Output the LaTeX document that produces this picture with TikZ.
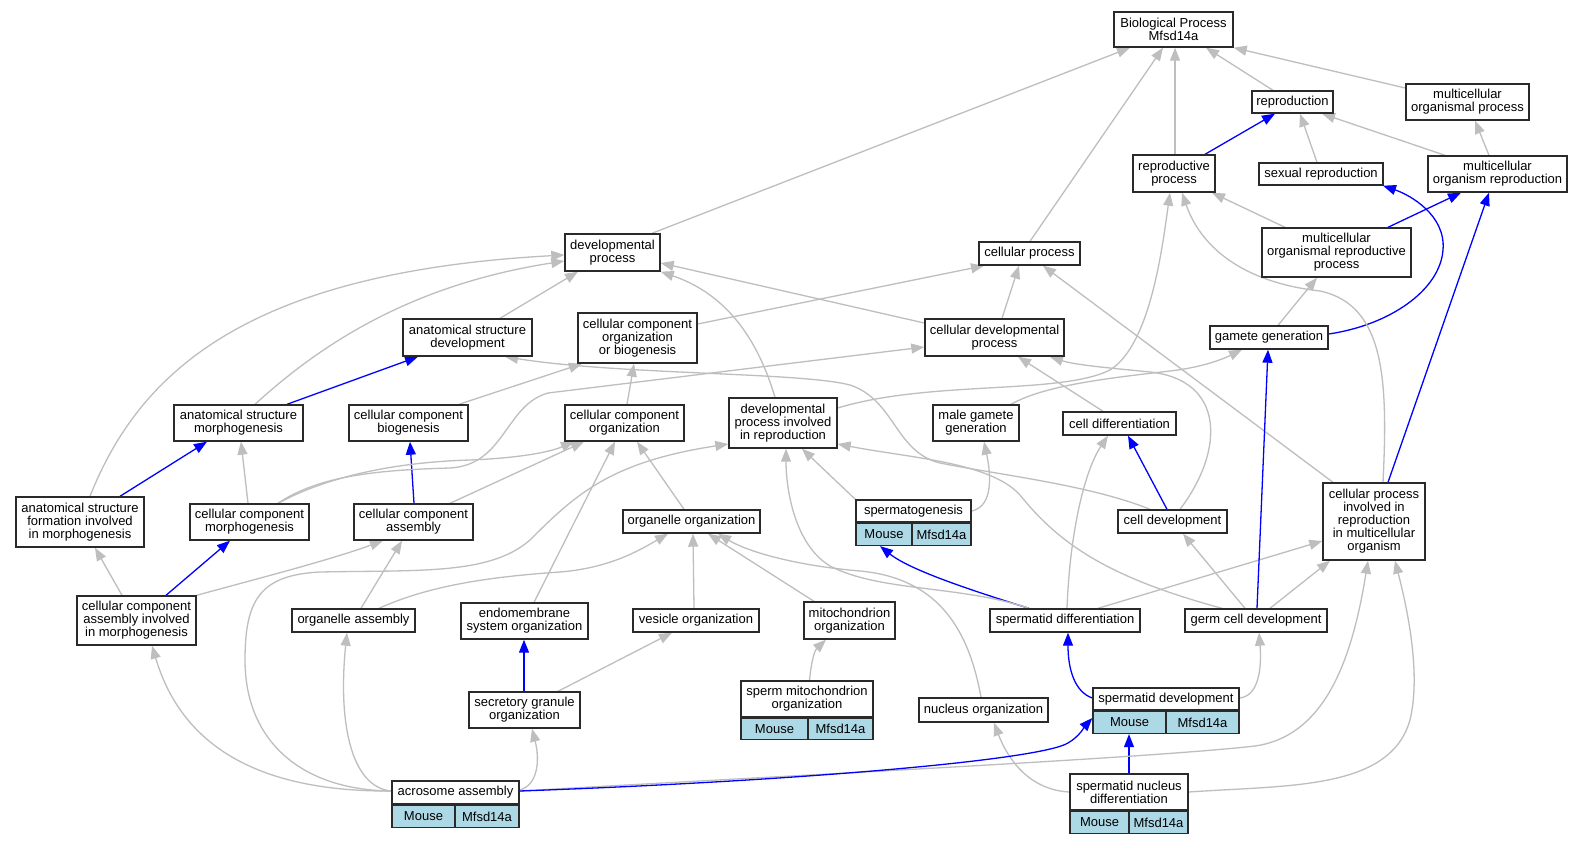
\documentclass[tikz,border=0pt]{standalone}
\usepackage{fontspec}
\setmainfont{Liberation Sans}
\usetikzlibrary{arrows.meta}
\definecolor{eg}{HTML}{BEBEBE}
\definecolor{eb}{HTML}{0000FF}
\definecolor{lb}{HTML}{ADD8E6}
\definecolor{nb}{HTML}{2A2A2A}
\pgfdeclarelayer{bg}\pgfdeclarelayer{edges}\pgfsetlayers{bg,edges,main}
\newcommand\nf{\fontsize{13}{13}\selectfont}
\tikzset{
 box/.style={draw=nb, line width=1.4pt, fill=white, inner sep=0pt, align=center, font=\nf},
 cell/.style={box, fill=lb},
 ge/.style={draw=eg, line width=1.3pt, -{Triangle[length=13pt,width=10pt]}},
 be/.style={draw=eb, line width=1.3pt, -{Triangle[length=13pt,width=10pt]}},
}
\begin{document}
\begin{tikzpicture}[x=1pt,y=-1pt]
\begin{pgfonlayer}{bg}
\fill[white] (0,0) rectangle (1583,843);
\end{pgfonlayer}
\useasboundingbox (0,0) rectangle (1583,843);
% nodes
\node[box, minimum width=119pt, minimum height=35pt] (bp) at (1173.5,29.5) {Biological Process\\Mfsd14a};
\node[box, minimum width=81pt, minimum height=22pt] (repro) at (1292.5,102) {reproduction};
\node[box, minimum width=123pt, minimum height=36pt] (mop) at (1467.5,102) {multicellular\\organismal process};
\node[box, minimum width=82pt, minimum height=37pt] (rp) at (1174,173.5) {reproductive\\process};
\node[box, minimum width=124pt, minimum height=22pt] (sr) at (1321,174) {sexual reproduction};
\node[box, minimum width=139pt, minimum height=36pt] (mor) at (1497.5,174) {multicellular\\organism reproduction};
\node[box, minimum width=149pt, minimum height=49pt] (morp) at (1336.5,252.5) {multicellular\\organismal reproductive\\process};
\node[box, minimum width=95pt, minimum height=37pt] (dp) at (612.5,252.5) {developmental\\process};
\node[box, minimum width=101pt, minimum height=23pt] (cp) at (1029.5,253.5) {cellular process};
\node[box, minimum width=129pt, minimum height=37pt] (asd) at (467.5,337.5) {anatomical structure\\development};
\node[box, minimum width=119pt, minimum height=50pt] (ccob) at (637.5,338) {cellular component\\organization\\or biogenesis};
\node[box, minimum width=139pt, minimum height=37pt] (cdp) at (994.5,337.5) {cellular developmental\\process};
\node[box, minimum width=118pt, minimum height=23pt] (gg) at (1269,337.5) {gamete generation};
\node[box, minimum width=129pt, minimum height=36pt] (asm) at (238.5,423) {anatomical structure\\morphogenesis};
\node[box, minimum width=119pt, minimum height=36pt] (ccb) at (408.5,423) {cellular component\\biogenesis};
\node[box, minimum width=119pt, minimum height=36pt] (cco) at (624.5,423) {cellular component\\organization};
\node[box, minimum width=108pt, minimum height=50pt] (dpir) at (783,423) {developmental\\process involved\\in reproduction};
\node[box, minimum width=86pt, minimum height=36pt] (mgg) at (976,423) {male gamete\\generation};
\node[box, minimum width=113pt, minimum height=23pt] (cd) at (1119.5,423.5) {cell differentiation};
\node[box, minimum width=128pt, minimum height=50pt] (asf) at (80,522) {anatomical structure\\formation involved\\in morphogenesis};
\node[box, minimum width=119pt, minimum height=36pt] (ccm) at (249.5,522) {cellular component\\morphogenesis};
\node[box, minimum width=119pt, minimum height=36pt] (cca) at (413.5,522) {cellular component\\assembly};
\node[box, minimum width=137pt, minimum height=23pt] (oo) at (691.5,521.5) {organelle organization};
\node[box, minimum width=115pt, minimum height=22pt] (sg) at (913.5,511) {spermatogenesis};
\node[cell, minimum width=56pt, minimum height=22pt, anchor=north west] (sgM) at (sg.south west) {Mouse};
\node[cell, minimum width=59pt, minimum height=22pt, anchor=north east] (sgG) at (sg.south east) {Mfsd14a};
\node[box, minimum width=109pt, minimum height=23pt] (cdev) at (1172.5,521.5) {cell development};
\node[box, minimum width=102pt, minimum height=77pt] (cpir) at (1374,521.5) {cellular process\\involved in\\reproduction\\in multicellular\\organism};
\node[box, minimum width=119pt, minimum height=49pt] (ccaim) at (136.5,620.5) {cellular component\\assembly involved\\in morphogenesis};
\node[box, minimum width=123pt, minimum height=23pt] (oa) at (353.5,620.5) {organelle assembly};
\node[box, minimum width=127pt, minimum height=36pt] (eso) at (524.5,621) {endomembrane\\system organization};
\node[box, minimum width=126pt, minimum height=23pt] (vo) at (696,620.5) {vesicle organization};
\node[box, minimum width=91pt, minimum height=37pt] (mito) at (849.5,620.5) {mitochondrion\\organization};
\node[box, minimum width=150pt, minimum height=23pt] (sd) at (1065,620.5) {spermatid differentiation};
\node[box, minimum width=142pt, minimum height=23pt] (gcd) at (1256,620.5) {germ cell development};
\node[box, minimum width=111pt, minimum height=36pt] (sgo) at (524.5,710) {secretory granule\\organization};
\node[box, minimum width=132pt, minimum height=36pt] (smo) at (807,699) {sperm mitochondrion\\organization};
\node[cell, minimum width=67pt, minimum height=21pt, anchor=north west] (smoM) at (smo.south west) {Mouse};
\node[cell, minimum width=65pt, minimum height=21pt, anchor=north east] (smoG) at (smo.south east) {Mfsd14a};
\node[box, minimum width=129pt, minimum height=24pt] (no) at (983.5,710) {nucleus organization};
\node[box, minimum width=146pt, minimum height=22pt] (sdev) at (1166,699) {spermatid development};
\node[cell, minimum width=73pt, minimum height=22pt, anchor=north west] (sdevM) at (sdev.south west) {Mouse};
\node[cell, minimum width=73pt, minimum height=22pt, anchor=north east] (sdevG) at (sdev.south east) {Mfsd14a};
\node[box, minimum width=118pt, minimum height=36pt] (snd) at (1129,792) {spermatid nucleus\\differentiation};
\node[cell, minimum width=59pt, minimum height=22pt, anchor=north west] (sndM) at (snd.south west) {Mouse};
\node[cell, minimum width=59pt, minimum height=22pt, anchor=north east] (sndG) at (snd.south east) {Mfsd14a};
\node[box, minimum width=127pt, minimum height=23pt] (acro) at (455.5,792.5) {acrosome assembly};
\node[cell, minimum width=63pt, minimum height=22pt, anchor=north west] (acroM) at (acro.south west) {Mouse};
\node[cell, minimum width=64pt, minimum height=22pt, anchor=north east] (acroG) at (acro.south east) {Mfsd14a};
% edges
\begin{pgfonlayer}{edges}
\draw[ge] (dp.north -| 652,0) -- (bp.south -| 1130,0);
\draw[ge] (cp.north -| 1030,0) -- (bp.south -| 1163,0);
\draw[ge] (rp.north -| 1175,0) -- (bp.south -| 1175,0);
\draw[ge] (repro.north -| 1273,0) -- (bp.south -| 1206,0);
\draw[ge] (mop.west |- 0,88) -- (bp.south east);
\draw[be] (rp.north -| 1205,0) -- (repro.south -| 1275,0);
\draw[ge] (sr.north -| 1317,0) -- (repro.south -| 1300,0);
\draw[ge] (mor.north -| 1445,0) -- (repro.south -| 1322,0);
\draw[ge] (mor.north -| 1489,0) -- (mop.south -| 1475,0);
\draw[ge] (morp.north -| 1285,0) -- (rp.south -| 1212,0);
\draw[be] (morp.north -| 1388,0) -- (mor.south -| 1461,0);
\draw[be] (gg.east |- 0,334) .. controls (1390,325) and (1440,290) .. (1443,250) .. controls (1446,215) and (1410,195) .. (sr.south -| 1383,0);
\draw[be] (cpir.north -| 1388,0) -- (mor.south -| 1489,0);
\draw[ge] (cpir.north -| 1383,0) .. controls (1388,380) and (1385,305) .. (1320,291) .. controls (1240,282) and (1200,245) .. (rp.south -| 1182,0);
\draw[ge] (dpir.east |- 0,408) .. controls (930,380) and (1060,395) .. (1110,370) .. controls (1150,345) and (1162,250) .. (rp.south -| 1170,0);
\draw[ge] (gg.north -| 1278,0) -- (morp.south -| 1317,0);
\draw[ge] (cdev.north -| 1180,0) .. controls (1225,450) and (1225,380) .. (1150,372) .. controls (1110,368) and (1075,365) .. (cdp.south -| 1050,0);
\draw[ge] (cd.north -| 1103,0) -- (cdp.south -| 1018,0);
\draw[ge] (cdp.north -| 1002,0) -- (cp.south -| 1019,0);
\draw[ge] (cpir.north -| 1333,0) -- (cp.south -| 1043,0);
\draw[ge] (cdp.west |- 0,323) -- (dp.east |- 0,263);
\draw[ge] (ccob.east |- 0,324) -- (cp.south -| 984,0);
\draw[ge] (asd.north -| 500,0) -- (dp.south -| 578,0);
\draw[ge] (asm.north -| 255,0) .. controls (320,345) and (410,285) .. (dp.west |- 0,261);
\draw[ge] (asf.north -| 90,0) .. controls (140,370) and (250,272) .. (dp.west |- 0,255);
\draw[be] (asm.north -| 287,0) -- (asd.south -| 418,0);
\draw[be] (asf.north -| 120,0) -- (asm.south -| 207,0);
\draw[ge] (ccm.north -| 248,0) -- (asm.south -| 241,0);
\draw[ge] (ccb.north -| 459,0) -- (ccob.south -| 582,0);
\draw[be] (cca.north -| 414,0) -- (ccb.south -| 410,0);
\draw[ge] (ccm.north -| 278,0) .. controls (320,475) and (380,470) .. (450,468) .. controls (505,465) and (505,405) .. (548,393) -- (cdp.west |- 0,347);
\draw[ge] (ccm.north -| 278,0) .. controls (330,475) and (400,462) .. (470,460) .. controls (520,458) and (550,452) .. (cco.south -| 574,0);
\draw[ge] (cca.north -| 450,0) -- (cco.south -| 584,0);
\draw[ge] (cco.north -| 627,0) -- (ccob.south -| 634,0);
\draw[ge] (dpir.north -| 775,0) .. controls (755,330) and (720,292) .. (dp.south east);
\draw[ge] (oo.north -| 684,0) -- (cco.south -| 637,0);
\draw[ge] (eso.north -| 534,0) -- (cco.south -| 615,0);
\draw[be] (ccaim.north -| 166,0) -- (ccm.south -| 230,0);
\draw[ge] (ccaim.north -| 122,0) -- (asf.south -| 95,0);
\draw[ge] (ccaim.north east) .. controls (260,578) and (330,560) .. (cca.south -| 383,0);
\draw[ge] (oa.north -| 361,0) -- (cca.south -| 402,0);
\draw[ge] (oa.north -| 379,0) .. controls (420,590) and (470,578) .. (560,572) .. controls (610,568) and (640,550) .. (oo.south -| 668,0);
\draw[ge] (vo.north -| 694,0) -- (oo.south -| 693,0);
\draw[ge] (mito.north -| 814,0) -- (oo.south -| 708,0);
\draw[ge] (no.north -| 981,0) .. controls (968,625) and (935,578) .. (860,571) .. controls (800,566) and (750,553) .. (oo.south -| 718,0);
\draw[ge] (sgo.north -| 558,0) -- (vo.south -| 672,0);
\draw[be] (sgo.north -| 524,0) -- (eso.south -| 524,0);
\draw[ge] (acro.east |- 0,790) .. controls (538,785) and (540,760) .. (sgo.south -| 532,0);
\draw[ge] (smoM.north -| 808,0) .. controls (808,665) and (815,650) .. (mito.south -| 826,0);
\draw[ge] (sg.north west) -- (dpir.south -| 802,0);
\draw[ge] (sg.east) .. controls (995,506) and (990,470) .. (mgg.south -| 984,0);
\draw[be] (sd.north -| 1029,0) .. controls (970,590) and (910,570) .. (sgM.south -| 880,0);
\draw[ge] (sd.north -| 1029,0) .. controls (960,585) and (880,592) .. (830,566) .. controls (795,545) and (786,490) .. (dpir.south -| 786,0);
\draw[ge] (sd.north -| 1067,0) .. controls (1070,530) and (1085,470) .. (cd.south -| 1108,0);
\draw[ge] (sd.north -| 1098,0) -- (cpir.west |- 0,541);
\draw[be] (gcd.north -| 1257,0) -- (gg.south -| 1268,0);
\draw[ge] (gcd.north -| 1245,0) -- (cdev.south -| 1183,0);
\draw[ge] (gcd.north -| 1270,0) -- (cpir.south -| 1330,0);
\draw[ge] (gcd.north -| 1222,0) .. controls (1110,578) and (1060,545) .. (1020,495) .. controls (990,462) and (910,458) .. (dpir.east |- 0,444);
\draw[be] (cdev.north -| 1167,0) -- (cd.south -| 1128,0);
\draw[ge] (cdev.north -| 1150,0) .. controls (1090,485) and (1000,475) .. (940,463) .. controls (895,452) and (895,400) .. (850,385) .. controls (800,372) and (620,375) .. (asd.south -| 505,0);
\draw[ge] (mgg.north -| 1011,0) .. controls (1045,385) and (1110,378) .. (1170,371) .. controls (1205,367) and (1225,358) .. (gg.south -| 1242,0);
\draw[be] (sdev.west |- 0,698) .. controls (1075,692) and (1068,670) .. (sd.south -| 1068,0);
\draw[ge] (sdev.east |- 0,698) .. controls (1258,696) and (1262,670) .. (gcd.south -| 1259,0);
\draw[be] (snd.north -| 1129,0) -- (sdevM.south -| 1129,0);
\draw[ge] (snd.west |- 0,792) .. controls (1030,790) and (1008,760) .. (no.south -| 994,0);
\draw[ge] (snd.east |- 0,792) .. controls (1290,785) and (1390,790) .. (1410,720) .. controls (1422,670) and (1405,600) .. (cpir.south -| 1395,0);
\draw[ge] (acro.east |- 0,791) .. controls (800,775) and (1150,758) .. (1255,746) .. controls (1325,736) and (1352,660) .. (cpir.south -| 1368,0);
\draw[be] (acro.east |- 0,791) .. controls (800,781) and (1040,760) .. (1068,743) .. controls (1080,736) and (1085,726) .. (sdevM.west |- 0,718);
\draw[ge] (acro.west |- 0,791) .. controls (250,792) and (180,740) .. (ccaim.south -| 152,0);
\draw[ge] (acro.west |- 0,791) .. controls (350,787) and (338,720) .. (oa.south -| 347,0);
\draw[ge] (acro.west |- 0,791) .. controls (300,790) and (245,740) .. (245,660) .. controls (245,600) and (260,575) .. (320,572) .. controls (420,570) and (490,575) .. (530,540) .. controls (575,495) and (610,462) .. (dpir.west |- 0,444);
\end{pgfonlayer}
\end{tikzpicture}
\end{document}
